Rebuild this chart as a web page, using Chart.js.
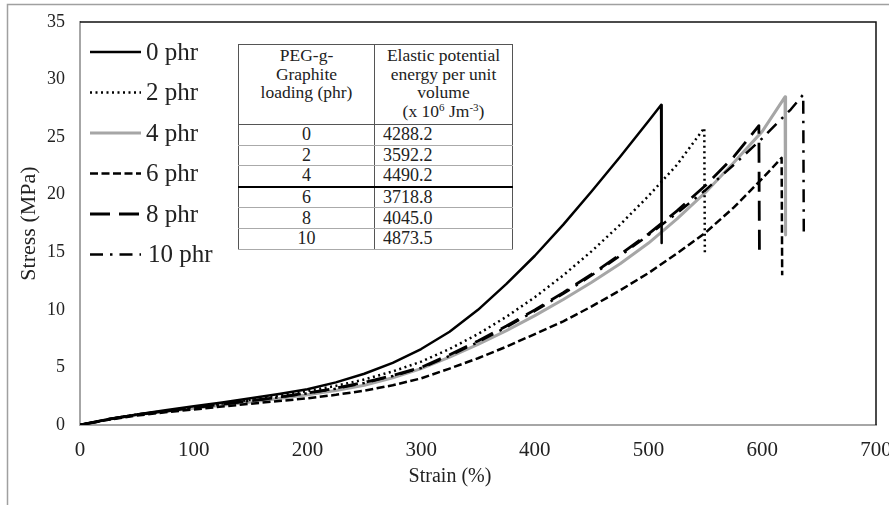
<!DOCTYPE html>
<html lang="en">
<head>
    <meta charset="UTF-8">
    <title>Stress-strain curves</title>
    <style>
        body { margin: 0; padding: 0; background: #fff; }
        #wrap { position: relative; width: 889px; height: 505px; }
        #chart { position: absolute; left: 0; top: 0; }
        #tbl {
            position: absolute; left: 238px; top: 44px; width: 275px;
            border-collapse: collapse; background: #fff;
            font-family: "Liberation Serif", "Times New Roman", serif; font-size: 17.5px; color: #222;
        }
        #tbl td { border: 1px solid #555; padding: 0; line-height: 18.5px; }
        #tbl tr.head td { height: 78px; vertical-align: top; text-align: center; padding-top: 1px; }
        #tbl tr.row td { height: 19.6px; line-height: 19px; font-size: 18px; border-top-color: #aaa; border-bottom-color: #aaa; }
        #tbl tr.row td.c1 { text-align: center; }
        #tbl tr.row td.c2 { padding-left: 8px; }
        #tbl tr.thick td { border-top: 2px solid #000; }
        #tbl sup { font-size: 11px; line-height: 0; vertical-align: 6px; }
    </style>
    <script src="https://cdn.jsdelivr.net/npm/chart.js"></script>
</head>
<body>

<div id="wrap">
    <canvas id="chart" width="889" height="505"></canvas>
    <table id="tbl">
        <tr class="head">
            <td style="width:135px">PEG-g-<br>Graphite<br>loading (phr)</td>
            <td>Elastic potential<br>energy per unit<br>volume<br>(x 10<sup>6</sup> Jm<sup>-3</sup>)</td>
        </tr>
    </table>
</div>

<script>
    // series data (strain %, stress MPa); last point of each is the drop after break
    var strain0  = [0, 25, 50, 75, 100, 125, 150, 175, 200, 225, 250, 275, 300, 325, 350, 375, 400, 425, 450, 475, 500, 511, 511.5];
    var stress0  = [0, 0.5, 0.92, 1.28, 1.62, 1.96, 2.32, 2.7, 3.1, 3.7, 4.45, 5.4, 6.6, 8.1, 10.0, 12.25, 14.7, 17.4, 20.3, 23.3, 26.4, 27.8, 15.8];

    var strain2  = [0, 25, 50, 75, 100, 125, 150, 175, 200, 225, 250, 275, 300, 325, 350, 375, 400, 425, 450, 475, 500, 525, 549, 549.5];
    var stress2  = [0, 0.5, 0.9, 1.22, 1.55, 1.87, 2.2, 2.55, 2.95, 3.4, 3.95, 4.65, 5.5, 6.6, 7.9, 9.4, 11.1, 13.0, 15.1, 17.4, 19.9, 22.6, 25.8, 14.8];

    var strain4  = [0, 25, 50, 75, 100, 125, 150, 175, 200, 225, 250, 275, 300, 325, 350, 375, 400, 425, 450, 475, 500, 525, 550, 575, 600, 620, 620.5];
    var stress4  = [0, 0.5, 0.88, 1.17, 1.45, 1.72, 2.0, 2.3, 2.62, 3.0, 3.45, 4.1, 4.9, 5.9, 7.0, 8.2, 9.5, 10.9, 12.4, 14.0, 15.8, 17.9, 20.2, 22.8, 25.5, 28.5, 16.5];

    var strain6  = [0, 25, 50, 75, 100, 125, 150, 175, 200, 225, 250, 275, 300, 325, 350, 375, 400, 425, 450, 475, 500, 525, 550, 575, 600, 617, 617.5];
    var stress6  = [0, 0.45, 0.82, 1.1, 1.35, 1.6, 1.85, 2.08, 2.32, 2.62, 2.98, 3.45, 4.05, 4.9, 5.8, 6.8, 7.9, 9.0, 10.3, 11.7, 13.2, 14.9, 16.7, 18.9, 21.4, 23.2, 13.0];

    var strain8  = [0, 25, 50, 75, 100, 125, 150, 175, 200, 225, 250, 275, 300, 325, 350, 375, 400, 425, 450, 475, 500, 525, 550, 575, 597, 597.5];
    var stress8  = [0, 0.5, 0.9, 1.2, 1.5, 1.8, 2.1, 2.42, 2.78, 3.2, 3.7, 4.3, 5.0, 6.1, 7.3, 8.6, 10.0, 11.5, 13.1, 14.8, 16.6, 18.6, 20.8, 23.3, 26.0, 15.0];

    var strain10 = [0, 25, 50, 75, 100, 125, 150, 175, 200, 225, 250, 275, 300, 325, 350, 375, 400, 425, 450, 475, 500, 525, 550, 575, 600, 625, 636, 636.5];
    var stress10 = [0, 0.5, 0.9, 1.2, 1.5, 1.8, 2.1, 2.4, 2.75, 3.15, 3.65, 4.25, 4.95, 6.0, 7.2, 8.5, 9.9, 11.4, 13.0, 14.7, 16.5, 18.4, 20.4, 22.6, 24.9, 27.4, 28.7, 16.8];

    var seriesLabels = ['0 phr', '2 phr', '4 phr', '6 phr', '8 phr', '10 phr'];

    // inset table
    var loadings = ['0', '2', '4', '6', '8', '10'];
    var energies = ['4288.2', '3592.2', '4490.2', '3718.8', '4045.0', '4873.5'];

    var xTicks = [0, 100, 200, 300, 400, 500, 600, 700];
    var yTicks = [0, 5, 10, 15, 20, 25, 30, 35];

    var serif = '"Liberation Serif", "Times New Roman", serif';

    // fill table rows
    var tbl = document.getElementById('tbl');
    loadings.forEach(function(l, i) {
        var tr = document.createElement('tr');
        tr.className = 'row' + (l === '6' ? ' thick' : '');
        tr.innerHTML = '<td class="c1">' + l + '</td><td class="c2">' + energies[i] + '</td>';
        tbl.appendChild(tr);
    });

    function pts(xs, ys) {
        return xs.map(function(x, i) { return { x: x, y: ys[i] }; });
    }

    var styles = [
        { color: '#000', width: 2.5, dash: [] },
        { color: '#000', width: 2.5, dash: [2, 3.5] },
        { color: '#a6a6a6', width: 3, dash: [] },
        { color: '#000', width: 2.5, dash: [8, 3.5] },
        { color: '#000', width: 2.8, dash: [20, 9] },
        { color: '#000', width: 2.5, dash: [13, 7, 2.5, 7] }
    ];
    var sets = [pts(strain0, stress0), pts(strain2, stress2), pts(strain4, stress4),
                pts(strain6, stress6), pts(strain8, stress8), pts(strain10, stress10)];

    var datasets = sets.map(function(d, i) {
        return {
            label: seriesLabels[i],
            data: d,
            borderColor: styles[i].color,
            borderWidth: styles[i].width,
            borderDash: styles[i].dash,
            borderJoinStyle: 'round',
            pointRadius: 0,
            fill: false,
            tension: 0,
            order: i === 2 ? 1 : 0
        };
    });

    // frame, plot border, legend and x title
    var decor = {
        id: 'decor',
        beforeDraw: function(chart) {
            var ctx = chart.ctx;
            ctx.save();
            ctx.fillStyle = '#fff';
            ctx.fillRect(0, 0, chart.width, chart.height);
            ctx.strokeStyle = '#a0a0a0';
            ctx.lineWidth = 1.5;
            ctx.beginPath();
            ctx.moveTo(7.5, 505); ctx.lineTo(7.5, 4.5); ctx.lineTo(889, 4.5);
            ctx.stroke();
            ctx.restore();
        },
        afterDraw: function(chart) {
            var ctx = chart.ctx, a = chart.chartArea;
            ctx.save();
            ctx.strokeStyle = '#111';
            ctx.lineWidth = 1.5;
            ctx.beginPath();
            ctx.moveTo(a.left, a.top); ctx.lineTo(a.right, a.top); ctx.lineTo(a.right, a.bottom);
            ctx.stroke();

            chart.data.datasets.forEach(function(ds, i) {
                var y = 52 + i * 40.5;
                ctx.strokeStyle = ds.borderColor;
                ctx.lineWidth = ds.borderWidth;
                ctx.setLineDash(ds.borderDash);
                ctx.beginPath(); ctx.moveTo(90, y); ctx.lineTo(141, y); ctx.stroke();
                ctx.setLineDash([]);
                ctx.fillStyle = '#222';
                ctx.font = '25px ' + serif;
                ctx.textBaseline = 'middle';
                ctx.fillText(ds.label, i === 5 ? 148 : 146, y + 1);
            });

            ctx.font = '20px ' + serif;
            ctx.textAlign = 'center';
            ctx.fillText('Strain (%)', 450, 477);
            ctx.restore();
        }
    };

    new Chart(document.getElementById('chart').getContext('2d'), {
        type: 'line',
        data: { datasets: datasets },
        plugins: [decor],
        options: {
            responsive: false,
            animation: false,
            layout: { padding: { left: 0, right: 13, top: 22, bottom: 0 } },
            plugins: { legend: { display: false }, tooltip: { enabled: false } },
            scales: {
                x: {
                    type: 'linear', min: 0, max: 700,
                    afterBuildTicks: function(s) { s.ticks = xTicks.map(function(v) { return { value: v }; }); },
                    ticks: { color: '#222', font: { family: serif, size: 21 }, padding: 13, maxRotation: 0 },
                    grid: { display: false, drawTicks: false },
                    border: { display: true, color: '#a6a6a6', width: 2 },
                    afterFit: function(s) { s.height = 80; s.paddingLeft = 0; s.paddingRight = 0; }
                },
                y: {
                    type: 'linear', min: 0, max: 35,
                    afterBuildTicks: function(s) { s.ticks = yTicks.map(function(v) { return { value: v }; }); },
                    ticks: { color: '#222', font: { family: serif, size: 18 }, padding: 15 },
                    grid: { display: false, drawTicks: false },
                    border: { display: true, color: '#a6a6a6', width: 2 },
                    title: { display: true, text: 'Stress (MPa)', color: '#222',
                             font: { family: serif, size: 22 }, padding: { top: 16, bottom: 0 } },
                    afterFit: function(s) { s.width = 80; s.paddingTop = 0; s.paddingBottom = 0; }
                }
            }
        }
    });
</script>

</body>
</html>
